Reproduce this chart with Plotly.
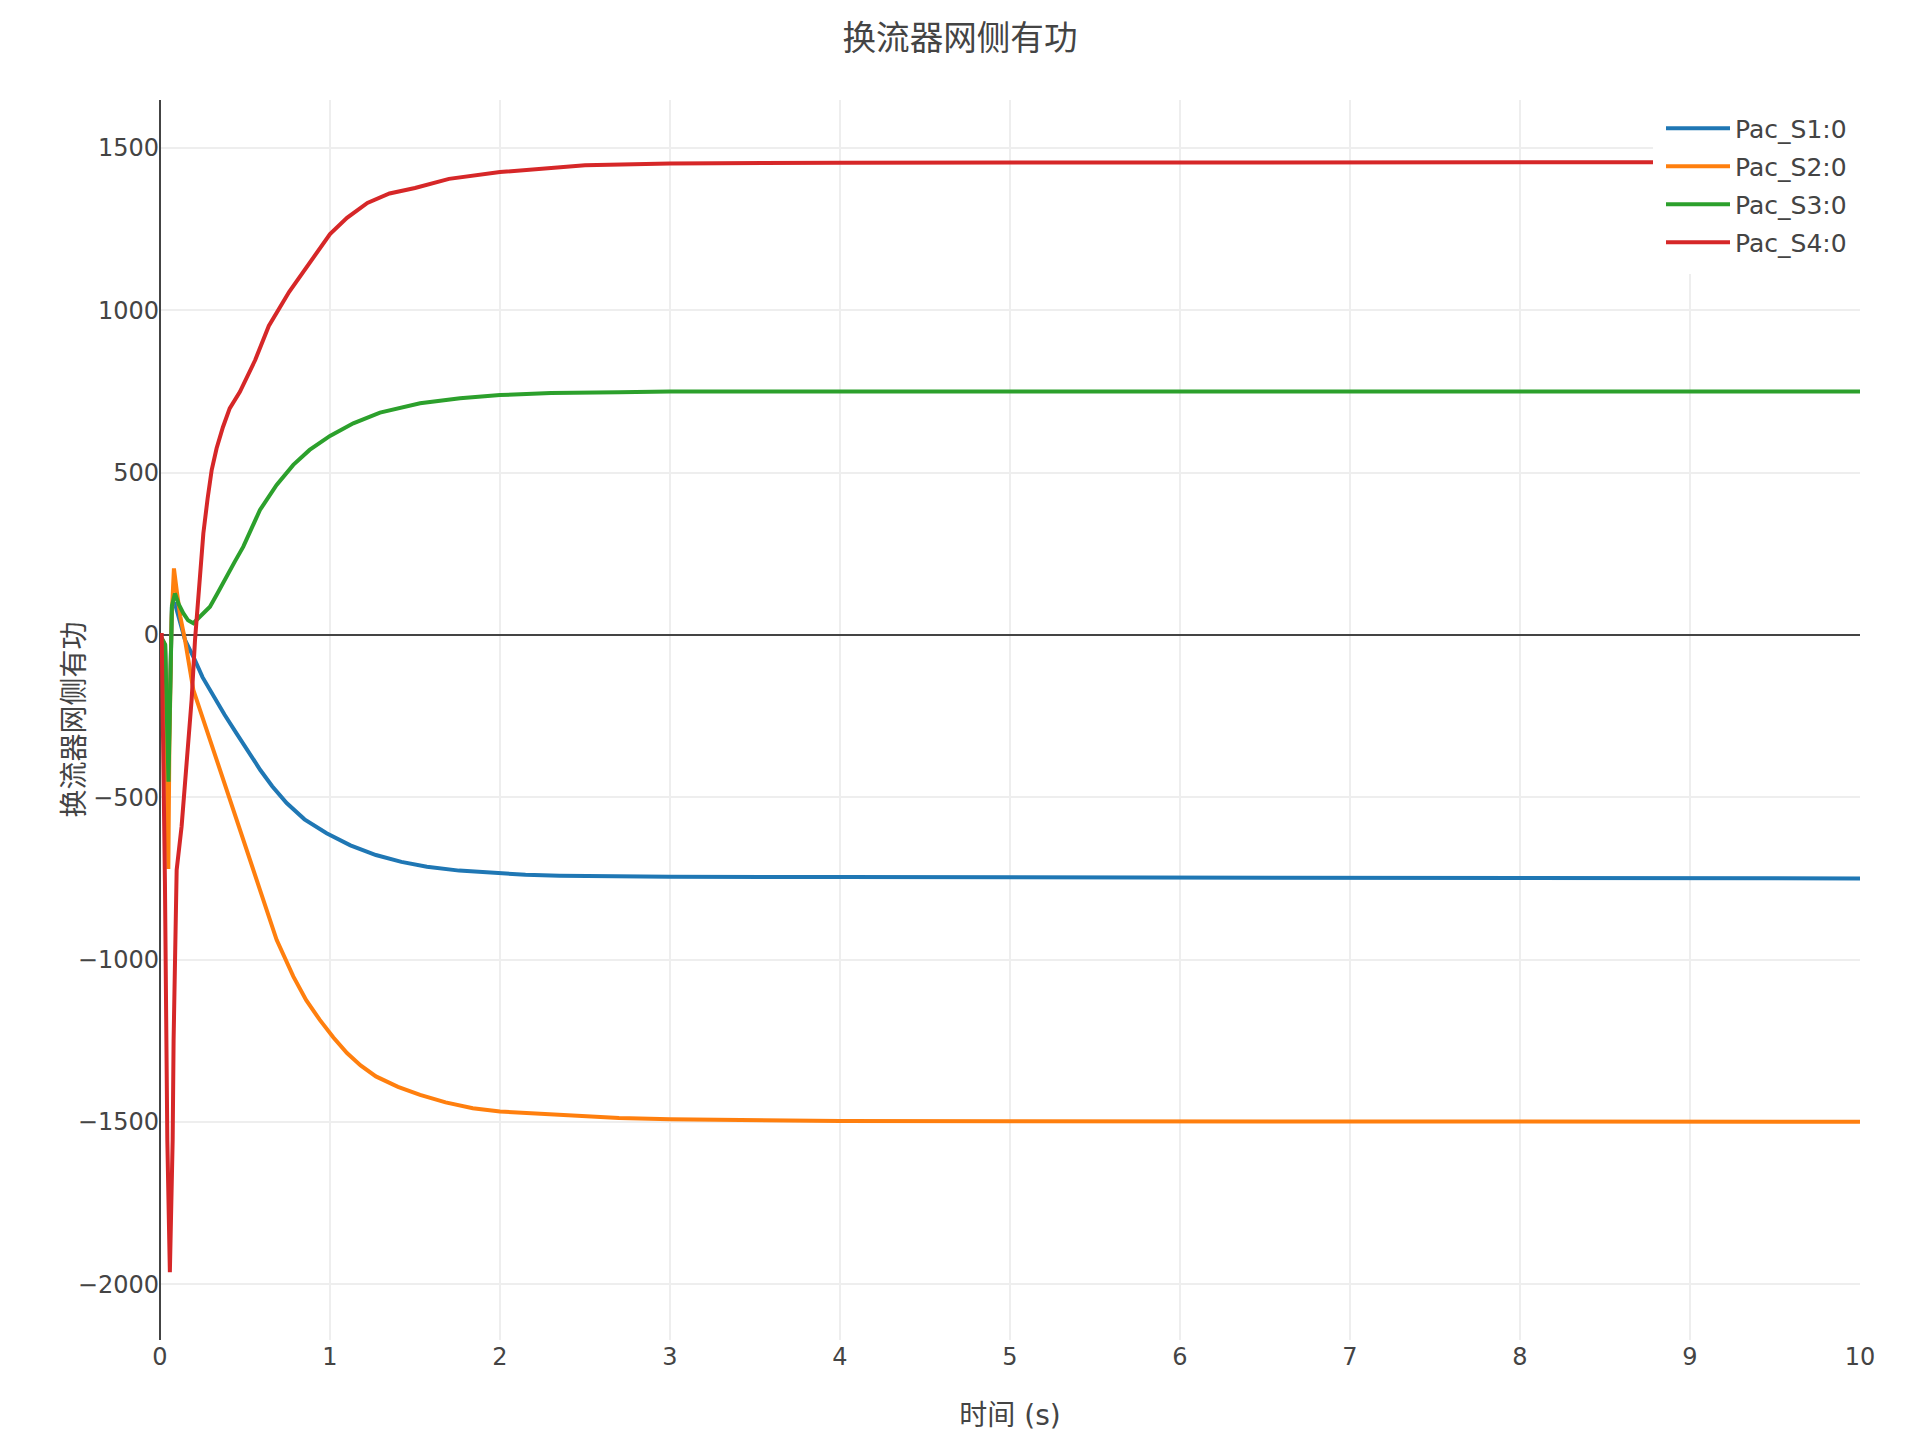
import plotly.graph_objects as go

# ---- data ----
names = ["Pac_S1:0", "Pac_S2:0", "Pac_S3:0", "Pac_S4:0"]
colors = ["#1f77b4", "#ff7f0e", "#2ca02c", "#d62728"]

t_s1 = [0, 0.03, 0.05, 0.056, 0.07, 0.086, 0.11, 0.147, 0.176, 0.2, 0.25, 0.314, 0.38,
        0.45, 0.52, 0.59, 0.66, 0.745, 0.85, 0.98, 1.12, 1.27, 1.42, 1.57, 1.76, 1.96,
        2.15, 2.35, 2.7, 3.0, 4.0, 5.0, 6.0, 7.0, 8.0, 9.0, 10.0]
p_s1 = [0, -30, -400, -250, 85, 100, 50, -15, -46, -71, -130, -190, -246,
        -303, -360, -416, -466, -518, -568, -611, -648, -678, -699, -714, -726, -734,
        -739, -742, -745, -745, -746, -747, -748, -748, -749, -749, -750]

t_s2 = [0, 0.03, 0.049, 0.055, 0.068, 0.082, 0.1, 0.12, 0.147, 0.196, 0.294, 0.39, 0.49,
        0.588, 0.686, 0.784, 0.86, 0.94, 1.02, 1.1, 1.18, 1.27, 1.4, 1.53, 1.68, 1.84,
        2.0, 2.35, 2.7, 3.0, 3.5, 4.0, 5.0, 6.0, 7.0, 8.0, 9.0, 10.0]
p_s2 = [0, -30, -721, -350, 50, 205, 130, 55, -15, -169, -323, -477, -631,
        -785, -939, -1052, -1125, -1186, -1240, -1288, -1326, -1360, -1392, -1417, -1440, -1458,
        -1468, -1478, -1488, -1492, -1495, -1497, -1498, -1498, -1499, -1499, -1499, -1500]

t_s3 = [0, 0.03, 0.05, 0.056, 0.07, 0.088, 0.11, 0.137, 0.165, 0.196, 0.235, 0.294, 0.34,
        0.39, 0.44, 0.49, 0.54, 0.588, 0.686, 0.784, 0.88, 1.0, 1.137, 1.294, 1.53, 1.765,
        2.0, 2.3, 2.7, 3.0, 4.0, 5.0, 6.0, 7.0, 8.0, 9.0, 10.0]
p_s3 = [0, -30, -452, -250, 90, 128, 95, 67, 45, 36, 55, 87, 130,
        180, 226, 272, 330, 385, 462, 524, 570, 613, 652, 685, 714, 729,
        739, 745, 748, 750, 750, 750, 750, 750, 750, 750, 750]

t_s4 = [0, 0.01, 0.029, 0.043, 0.058, 0.0745, 0.08, 0.088, 0.098, 0.127, 0.157, 0.186,
        0.206, 0.23, 0.255, 0.28, 0.304, 0.333, 0.37, 0.41, 0.47, 0.56, 0.64, 0.76, 0.9,
        1.0, 1.1, 1.22, 1.35, 1.5, 1.7, 2.0, 2.5, 3.0, 4.0, 5.0, 6.0, 7.0, 8.0, 9.0, 10.0]
p_s4 = [0, 0, -760, -1555, -1963, -1555, -1248, -939, -724, -590, -405, -200,
        -15, 150, 313, 420, 508, 575, 640, 698, 749, 847, 952, 1057, 1161,
        1235, 1285, 1331, 1360, 1377, 1405, 1426, 1447, 1452, 1455, 1456, 1456, 1456, 1456, 1456, 1456]

x_ticks = [0, 1, 2, 3, 4, 5, 6, 7, 8, 9, 10]
y_ticks = [-2000, -1500, -1000, -500, 0, 500, 1000, 1500]

title_text = "换流器网侧有功"
x_title = "时间 (s)"
y_title = "换流器网侧有功"

series = [(t_s1, p_s1), (t_s2, p_s2), (t_s3, p_s3), (t_s4, p_s4)]

FONT = "DejaVu Sans, Verdana, Noto Sans CJK SC, sans-serif"

fig = go.Figure()
for (tx, py), name, col in zip(series, names, colors):
    fig.add_trace(go.Scatter(
        x=tx, y=py, mode="lines", name=name, legendgroup=name,
        line=dict(color=col, width=4),
    ))

fig.update_layout(
    template="none",
    width=1904, height=1424,
    margin=dict(l=152, r=52, t=92, b=92, autoexpand=False),
    paper_bgcolor="white", plot_bgcolor="white",
    font=dict(family=FONT, size=24, color="#444"),
    title=dict(text=title_text, x=0.5, xref="container", xanchor="center",
               y=1 - 30 / 1424, yref="container", yanchor="middle",
               font=dict(size=33.6, color="#444", family=FONT)),
    legend=dict(x=1.0, xanchor="right", y=1.002, yanchor="top",
                font=dict(size=25, color="#444"), itemwidth=64,
                tracegroupgap=2.5, traceorder="grouped",
                bgcolor="white", bordercolor="white", borderwidth=8),
    xaxis=dict(range=[0, 10], tickvals=x_ticks, ticks="", showgrid=True,
               gridcolor="#eee", gridwidth=2, zeroline=True, zerolinecolor="#444",
               zerolinewidth=2, showline=False, automargin=False,
               tickfont=dict(size=24, color="#444"),
               title=dict(text=x_title, font=dict(size=28, color="#444"), standoff=46)),
    yaxis=dict(range=[-2172, 1648], tickvals=y_ticks, ticks="", showgrid=True,
               gridcolor="#eee", gridwidth=2, zeroline=True, zerolinecolor="#444",
               zerolinewidth=2, showline=False, automargin=False,
               tickfont=dict(size=24, color="#444")),
    annotations=[dict(text=y_title, textangle=-90, x=0, xref="paper", xanchor="center",
                      xshift=-86.5, y=0.5, yref="paper", yanchor="middle",
                      showarrow=False, font=dict(size=28, color="#444", family=FONT))],
)

fig.write_html("out.html")
